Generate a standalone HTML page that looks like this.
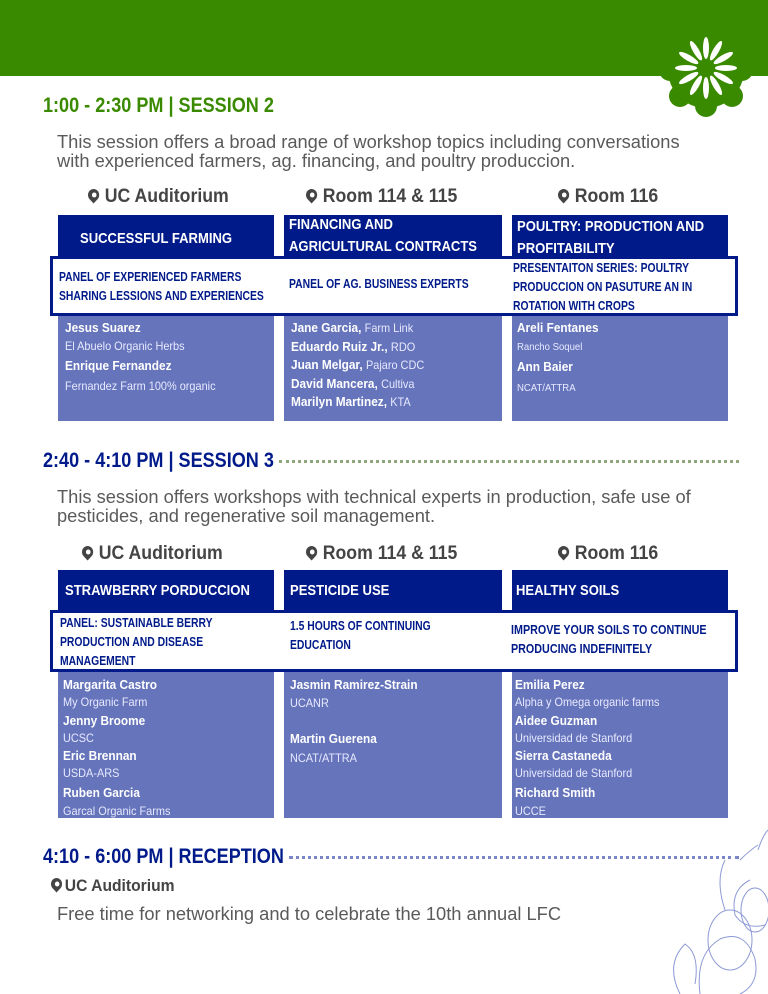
<!DOCTYPE html>
<html><head><meta charset="utf-8"><style>
*{margin:0;padding:0;box-sizing:border-box}
body{width:768px;height:994px;position:relative;overflow:hidden;background:#fff;font-family:"Liberation Sans",sans-serif}
.a{position:absolute;white-space:nowrap;transform-origin:0 0}
.n{font-weight:bold}
.h{font-size:21px;transform:scaleX(0.86)}
.desc{font-size:18.3px;color:#5a5a5a;line-height:19px}
.loc{font-size:19px;color:#444;transform:scaleX(0.93)}
.dark{position:absolute;background:#001a8a;color:#fff}
.lite{position:absolute;background:#6674bb;color:#fff}
.band{position:absolute;background:#fff;border:3px solid #001a8a}
.t{font-size:15px;line-height:22px;transform:scaleX(0.87)}
.s{font-size:12.5px;color:#001a8a;line-height:19px;transform:scaleX(0.83)}
.p{font-size:13px;line-height:18px;transform:scaleX(0.91)}
.p span{font-size:12px;color:#e8eaff}
.pin{display:inline-block;width:12px;height:12px;background:#444;border-radius:50% 50% 50% 0;transform:rotate(-45deg);margin-right:6px;position:relative;top:-1px}
.pin:after{content:"";position:absolute;left:3.5px;top:3.5px;width:5px;height:5px;background:#fff;border-radius:50%}
.dots{position:absolute;height:0;border-top:3px dotted}
</style></head><body>
<div class="a" style="left:0;top:0;width:768px;height:76px;background:#3a8a00"></div>
<svg class="a" style="left:652px;top:26px" width="116" height="92" viewBox="0 0 116 92">
<g fill="#3a8a00">
<circle cx="54" cy="44" r="38"/>
<circle cx="54" cy="10" r="11"/><circle cx="80" cy="18" r="11"/><circle cx="90" cy="44" r="11"/><circle cx="80" cy="70" r="11"/><circle cx="54" cy="80" r="11"/><circle cx="28" cy="70" r="11"/><circle cx="18" cy="44" r="11"/><circle cx="28" cy="18" r="11"/>
</g>
<g fill="#fff" transform="translate(54,42)">
<ellipse cx="0" cy="-20" rx="3" ry="11"/><ellipse cx="0" cy="-20" rx="3" ry="11" transform="rotate(30)"/><ellipse cx="0" cy="-20" rx="3" ry="11" transform="rotate(60)"/><ellipse cx="0" cy="-20" rx="3" ry="11" transform="rotate(90)"/><ellipse cx="0" cy="-20" rx="3" ry="11" transform="rotate(120)"/><ellipse cx="0" cy="-20" rx="3" ry="11" transform="rotate(150)"/><ellipse cx="0" cy="-20" rx="3" ry="11" transform="rotate(180)"/><ellipse cx="0" cy="-20" rx="3" ry="11" transform="rotate(210)"/><ellipse cx="0" cy="-20" rx="3" ry="11" transform="rotate(240)"/><ellipse cx="0" cy="-20" rx="3" ry="11" transform="rotate(270)"/><ellipse cx="0" cy="-20" rx="3" ry="11" transform="rotate(300)"/><ellipse cx="0" cy="-20" rx="3" ry="11" transform="rotate(330)"/>
</g></svg>

<!-- Session 2 -->
<div class="a n h" style="left:43px;top:94px;color:#3a8a00">1:00 - 2:30 PM | SESSION 2</div>
<div class="a desc" style="left:57px;top:132px">This session offers a broad range of workshop topics including conversations<br>with experienced farmers, ag. financing, and poultry produccion.</div>
<div class="a n loc" style="left:88px;top:186px"><i class="pin"></i>UC Auditorium</div>
<div class="a n loc" style="left:306px;top:186px"><i class="pin"></i>Room 114 &amp; 115</div>
<div class="a n loc" style="left:558px;top:186px"><i class="pin"></i>Room 116</div>

<div class="dark" style="left:58px;top:215px;width:216px;height:50px"></div>
<div class="dark" style="left:284px;top:215px;width:218px;height:50px"></div>
<div class="dark" style="left:512px;top:215px;width:216px;height:50px"></div>
<div class="a n t" style="left:80px;top:228px;color:#fff">SUCCESSFUL FARMING</div>
<div class="a n t" style="left:289px;top:214px;color:#fff">FINANCING AND<br>AGRICULTURAL CONTRACTS</div>
<div class="a n t" style="left:517px;top:216px;color:#fff">POULTRY: PRODUCTION AND<br>PROFITABILITY</div>
<div class="lite" style="left:58px;top:312px;width:216px;height:109px"></div>
<div class="lite" style="left:284px;top:312px;width:218px;height:109px"></div>
<div class="lite" style="left:512px;top:312px;width:216px;height:109px"></div>
<div class="band" style="left:50px;top:256px;width:688px;height:60px"></div>
<div class="a n s" style="left:59px;top:268px">PANEL OF EXPERIENCED FARMERS<br>SHARING LESSIONS AND EXPERIENCES</div>
<div class="a n s" style="left:289px;top:275px">PANEL OF AG. BUSINESS EXPERTS</div>
<div class="a n s" style="left:513px;top:259px">PRESENTAITON SERIES: POULTRY<br>PRODUCCION ON PASUTURE AN IN<br>ROTATION WITH CROPS</div>
<div class="a p" style="left:65px;top:319px;color:#fff"><b>Jesus Suarez</b><br><span>El Abuelo Organic Herbs</span><br><b style="line-height:22px">Enrique Fernandez</b><br><span>Fernandez Farm 100% organic</span></div>
<div class="a p" style="left:291px;top:319px;color:#fff;line-height:18.5px"><b>Jane Garcia,</b> <span>Farm Link</span><br><b>Eduardo Ruiz Jr.,</b> <span>RDO</span><br><b>Juan Melgar,</b> <span>Pajaro CDC</span><br><b>David Mancera,</b> <span>Cultiva</span><br><b>Marilyn Martinez,</b> <span>KTA</span></div>
<div class="a p" style="left:517px;top:319px;color:#fff"><b>Areli Fentanes</b><br><span style="font-size:10.5px">Rancho Soquel</span><br><b style="line-height:22px">Ann Baier</b><br><span style="font-size:10.5px">NCAT/ATTRA</span></div>

<!-- Session 3 -->
<div class="a n h" style="left:43px;top:449px;color:#001a8a">2:40 - 4:10 PM | SESSION 3</div>
<div class="dots" style="left:279px;top:460px;width:460px;border-color:#8fa77a"></div>
<div class="a desc" style="left:57px;top:487px">This session offers workshops with technical experts in production, safe use of<br>pesticides, and regenerative soil management.</div>
<div class="a n loc" style="left:82px;top:543px"><i class="pin"></i>UC Auditorium</div>
<div class="a n loc" style="left:306px;top:543px"><i class="pin"></i>Room 114 &amp; 115</div>
<div class="a n loc" style="left:558px;top:543px"><i class="pin"></i>Room 116</div>
<div class="dark" style="left:58px;top:570px;width:216px;height:44px"></div>
<div class="dark" style="left:284px;top:570px;width:218px;height:44px"></div>
<div class="dark" style="left:512px;top:570px;width:216px;height:44px"></div>
<div class="a n t" style="left:65px;top:580px;color:#fff">STRAWBERRY PORDUCCION</div>
<div class="a n t" style="left:290px;top:580px;color:#fff">PESTICIDE USE</div>
<div class="a n t" style="left:516px;top:580px;color:#fff">HEALTHY SOILS</div>
<div class="lite" style="left:58px;top:668px;width:216px;height:150px"></div>
<div class="lite" style="left:284px;top:668px;width:218px;height:150px"></div>
<div class="lite" style="left:512px;top:668px;width:216px;height:150px"></div>
<div class="band" style="left:50px;top:610px;width:688px;height:62px"></div>
<div class="a n s" style="left:60px;top:614px">PANEL: SUSTAINABLE BERRY<br>PRODUCTION AND DISEASE<br>MANAGEMENT</div>
<div class="a n s" style="left:290px;top:617px">1.5 HOURS OF CONTINUING<br>EDUCATION</div>
<div class="a n s" style="left:511px;top:621px;transform:scaleX(0.86)">IMPROVE YOUR SOILS TO CONTINUE<br>PRODUCING INDEFINITELY</div>
<div class="a p" style="left:63px;top:676px;color:#fff;line-height:17.3px"><b>Margarita Castro</b><br><span>My Organic Farm</span><br><b>Jenny Broome</b><br><span>UCSC</span><br><b>Eric Brennan</b><br><span>USDA-ARS</span><br><b style="line-height:19px">Ruben Garcia</b><br><span>Garcal Organic Farms</span></div>
<div class="a p" style="left:290px;top:676px;color:#fff"><b>Jasmin Ramirez-Strain</b><br><span>UCANR</span><br><br><b>Martin Guerena</b><br><span style="line-height:20px">NCAT/ATTRA</span></div>
<div class="a p" style="left:515px;top:676px;color:#fff;line-height:17.3px"><b>Emilia Perez</b><br><span>Alpha y Omega organic farms</span><br><b>Aidee Guzman</b><br><span>Universidad de Stanford</span><br><b>Sierra Castaneda</b><br><span>Universidad de Stanford</span><br><b style="line-height:19px">Richard Smith</b><br><span>UCCE</span></div>

<!-- Reception -->
<div class="a n h" style="left:43px;top:845px;color:#001a8a">4:10 - 6:00 PM | RECEPTION</div>
<div class="dots" style="left:289px;top:856px;width:450px;border-color:#7a86c8"></div>
<div class="a n" style="left:51px;top:876px;font-size:17px;color:#444;transform:scaleX(0.92)"><i class="pin" style="margin-right:3px"></i>UC Auditorium</div>
<div class="a desc" style="left:57px;top:904px">Free time for networking and to celebrate the 10th annual LFC</div>
<svg class="a" style="left:640px;top:820px" width="128" height="174" viewBox="0 0 128 174" fill="none" stroke="#8e9ad6" stroke-width="1">
<path d="M100 40 q10 -10 18 -15 M110 60 q-20 10 -15 35 q10 15 30 10"/>
<path d="M60 174 q-5 -40 20 -55 q25 -10 35 20 q5 25 -15 35"/>
<path d="M40 174 q-15 -30 5 -50 q15 10 10 40"/>
<path d="M85 90 q-10 -30 0 -50 M118 30 q5 -15 10 -20"/>
<ellipse cx="90" cy="120" rx="22" ry="30"/>
<ellipse cx="115" cy="90" rx="14" ry="22"/>
</svg>
</body></html>
